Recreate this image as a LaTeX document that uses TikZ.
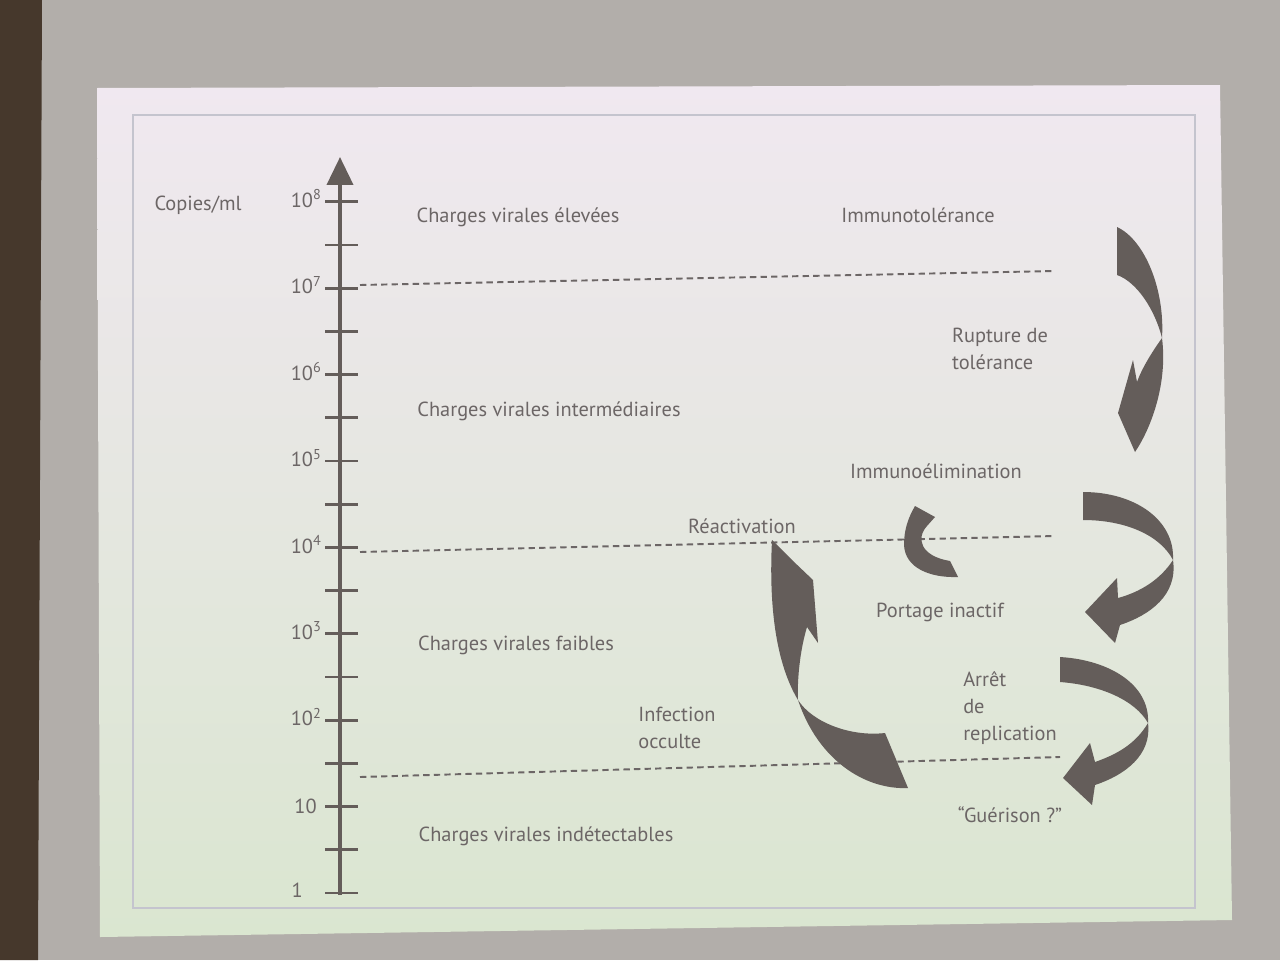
\documentclass[tikz,border=0pt]{standalone}
\usepackage{fontspec}
\setmainfont{PT Sans}
\usepackage{tikz}
\usetikzlibrary{arrows.meta, positioning}
\definecolor{ecran}{RGB}{178,174,170}
\definecolor{cadre}{RGB}{70,56,44}
\definecolor{encre}{RGB}{108,102,102}
\definecolor{sombre}{RGB}{100,93,90}
\definecolor{trait}{RGB}{196,196,206}
\definecolor{haut}{RGB}{240,232,240}
\definecolor{milieu}{RGB}{228,232,246}
\definecolor{bas}{RGB}{218,230,208}

\begin{document}
\begin{tikzpicture}[
        x=0.02cm, y=-0.02cm,
        texte/.style={font=\fontsize{11.6}{15.5}\selectfont, text=encre, inner sep=0pt},
        bloc/.style={texte, align=left},
        axe/.style={line width=2.2pt, sombre, -{Triangle[width=0.52cm, length=0.56cm]}},
        graduation/.style={line width=1.6pt, sombre},
        seuil/.style={line width=1.1pt, encre, dash pattern=on 3.6pt off 2.4pt},
        courbe/.style={fill=sombre}
    ]
        \useasboundingbox (0,0) rectangle (1280,960);

        % photo de l'ecran
        \fill[ecran] (0,0) rectangle (1280,960);
        \fill[cadre] (0,0) -- (42,0) -- (38,960) -- (0,960) -- cycle;
        \shade[top color=haut, middle color=milieu, bottom color=bas]
            (97,88) -- (1220,85) -- (1232,920) -- (100,937) -- cycle;
        \draw[trait, line width=0.8pt] (133,115) rectangle (1195,908);

        % seuils
        \coordinate (s7) at (360,285);
        \coordinate (s4) at (360,552);
        \coordinate (s1) at (360,777);
        \draw[seuil] (s7) -- (1055,271);
        \draw[seuil] (s4) -- (1055,536);
        \draw[seuil] (s1) -- (1060,757);

        % axe et graduations
        \draw[axe] (340,895) -- (340,157);
        \foreach \k in {0,...,16}
            \draw[graduation] (325,{893-43.2*\k}) -- (358,{893-43.2*\k});
        \foreach \e in {2,...,8}
            \node[texte, anchor=east] (p\e) at (322,{890-86.4*\e}) {10\textsuperscript{\e}};
        \node[texte, anchor=east] (p1) at (317,806) {10};
        \node[texte, anchor=east] (p0) at (303,890) {1};
        \node[texte] (unite) at (198,205) {Copies/ml};

        % zones
        \node[texte] (elevees) at (518,217) {Charges virales élevées};
        \node[texte] (intermed) at (549,411) {Charges virales intermédiaires};
        \node[texte] (faibles) at (516,645) {Charges virales faibles};
        \node[texte] (indetect) at (546,836) {Charges virales indétectables};

        % phases
        \node[texte] (tolerance) at (918,215) {Immunotolérance};
        \node[bloc] (rupture) at (1000,349) {Rupture de\\tolérance};
        \node[texte] (elimination) at (936,471) {Immunoélimination};
        \node[texte] (reactivation) at (742,526) {Réactivation};
        \node[texte] (portage) at (940,612) {Portage inactif};
        \node[bloc] (occulte) at (677,728) {Infection\\occulte};
        \node[bloc] (arret) at (1010,708) {Arrêt\\de\\replication};
        \node[texte] (guerison) at (1010,815) {“Guérison ?”};

        % fleches courbes
        \fill[courbe] (1117,227) .. controls (1145,240) and (1165,290) .. (1162,338)
            .. controls (1152,352) and (1142,368) .. (1137,382) -- (1133,360) -- (1118,413) -- (1135,452)
            .. controls (1150,430) and (1168,385) .. (1162,338)
            .. controls (1155,310) and (1137,282) .. (1117,275) -- cycle;
        \fill[courbe] (1083,492) .. controls (1135,492) and (1175,520) .. (1173,560)
            .. controls (1160,580) and (1140,592) .. (1118,598) -- (1117,578) -- (1085,612) -- (1115,643) -- (1120,625)
            .. controls (1150,615) and (1178,595) .. (1173,560)
            .. controls (1160,535) and (1125,520) .. (1083,520) -- cycle;
        \fill[courbe] (1060,657) .. controls (1110,660) and (1150,685) .. (1148,723)
            .. controls (1135,745) and (1115,755) .. (1095,762) -- (1090,743) -- (1063,778) -- (1092,805) -- (1095,785)
            .. controls (1125,775) and (1152,755) .. (1148,723)
            .. controls (1135,700) and (1100,685) .. (1060,682) -- cycle;
        \fill[courbe] (772,540) -- (792,560) -- (813,580) -- (818,643) -- (807,627)
            .. controls (800,650) and (797,680) .. (798,700)
            .. controls (812,722) and (850,737) .. (885,733) -- (908,788)
            .. controls (865,790) and (818,760) .. (798,700)
            .. controls (780,670) and (768,620) .. (772,540) -- cycle;
        \fill[courbe] (915,506) -- (935,517) -- (927,526)
            .. controls (916,538) and (920,556) .. (950,561) -- (958,577)
            .. controls (930,578) and (905,568) .. (904,545)
            .. controls (904,530) and (908,518) .. (915,506) -- cycle;
    \end{tikzpicture}
\end{document}
